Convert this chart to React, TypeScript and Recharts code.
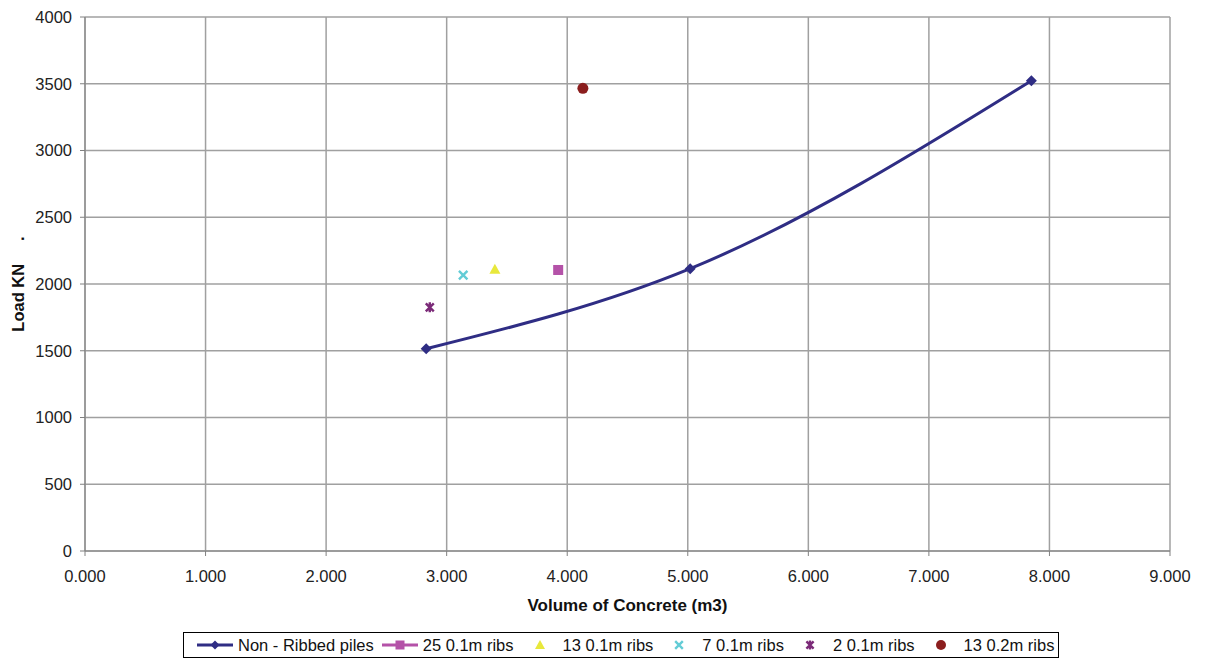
import React from 'react';
import {
  ComposedChart,
  Line,
  Scatter,
  XAxis,
  YAxis,
  CartesianGrid,
  Legend,
} from 'recharts';

// tick values
const xTicks = [0, 1, 2, 3, 4, 5, 6, 7, 8, 9];
const yTicks = [0, 500, 1000, 1500, 2000, 2500, 3000, 3500, 4000];

// non-ribbed piles (smoothed line)
const nonRibbedVolume = [2.83, 5.02, 7.85];
const nonRibbedLoad = [1515, 2115, 3523];

// ribbed piles (single points)
const ribbedNames = ['25 0.1m ribs', '13 0.1m ribs', '7 0.1m ribs', '2 0.1m ribs', '13 0.2m ribs'];
const ribbedVolume = [3.925, 3.4, 3.137, 2.86, 4.13];
const ribbedLoad = [2105, 2110, 2067, 1825, 3466];
const ribbedColors = ['#b452a8', '#e8e83c', '#63ccd6', '#7b2a78', '#8b1e1e'];
const ribbedShapes = ['square', 'triangle', 'x', 'asterisk', 'circle'];

const lineName = 'Non - Ribbed piles';
const lineColor = '#2f2d84';
const font = '"Liberation Sans", Arial, sans-serif';

const nonRibbed = nonRibbedVolume.map((x, i) => ({ x, y: nonRibbedLoad[i] }));
const ribbed = ribbedNames.map((name, i) => ({
  name,
  color: ribbedColors[i],
  shape: ribbedShapes[i],
  data: [{ x: ribbedVolume[i], y: ribbedLoad[i] }],
}));

function Marker({ shape, cx, cy, color, r = 5 }: { shape: string; cx: number; cy: number; color: string; r?: number }) {
  if (shape === 'diamond') {
    return <path d={`M${cx},${cy - r}L${cx + r},${cy}L${cx},${cy + r}L${cx - r},${cy}Z`} fill={color} />;
  }
  if (shape === 'square') {
    return <rect x={cx - r} y={cy - r} width={r * 2} height={r * 2} fill={color} />;
  }
  if (shape === 'triangle') {
    return <path d={`M${cx},${cy - r - 0.5}L${cx + r + 0.5},${cy + r - 0.5}L${cx - r - 0.5},${cy + r - 0.5}Z`} fill={color} />;
  }
  if (shape === 'x') {
    const a = r * 0.85;
    return (
      <path
        d={`M${cx - a},${cy - a}L${cx + a},${cy + a}M${cx + a},${cy - a}L${cx - a},${cy + a}`}
        stroke={color}
        strokeWidth={2.4}
        fill="none"
      />
    );
  }
  if (shape === 'asterisk') {
    const a = r * 0.8;
    return (
      <path
        d={`M${cx - a},${cy - a}L${cx + a},${cy + a}M${cx + a},${cy - a}L${cx - a},${cy + a}M${cx},${cy - r}L${cx},${cy + r}`}
        stroke={color}
        strokeWidth={2.4}
        fill="none"
      />
    );
  }
  return <circle cx={cx} cy={cy} r={r + 0.5} fill={color} />;
}

function XTitle(props: any) {
  const vb = props.viewBox || { x: 0, y: 0, width: 0 };
  return (
    <text
      x={vb.x + vb.width / 2}
      y={vb.y + 60}
      textAnchor="middle"
      fontFamily={font}
      fontSize={17}
      fontWeight="bold"
      fill="#111"
    >
      Volume of Concrete (m3)
    </text>
  );
}

function YTitle(props: any) {
  const vb = props.viewBox || { x: 0, y: 0, height: 0 };
  const cx = vb.x + 24;
  const cy = vb.y + vb.height / 2;
  return (
    <text
      x={cx}
      y={cy}
      transform={`rotate(-90, ${cx}, ${cy})`}
      textAnchor="middle"
      fontFamily={font}
      fontSize={16.5}
      fontWeight="bold"
      fill="#111"
    >
      {'Load KN\u00a0\u00a0\u00a0\u00a0\u00a0.'}
    </text>
  );
}

function ChartLegend() {
  const items = [
    { name: lineName, color: lineColor, shape: 'diamond', line: true },
    ...ribbed.map((s, i) => ({ name: s.name, color: s.color, shape: s.shape, line: i === 0 })),
  ];
  return (
    <div
      style={{
        boxSizing: 'border-box',
        height: 26,
        border: '1px solid #000',
        background: '#fff',
        display: 'flex',
        alignItems: 'center',
        paddingLeft: 12,
        fontFamily: font,
        fontSize: 16.5,
        color: '#111',
        whiteSpace: 'nowrap',
      }}
    >
      {items.map(it => (
        <span key={it.name} style={{ display: 'inline-flex', alignItems: 'center', marginRight: 7 }}>
          <svg width={38} height={14}>
            {it.line && <line x1={1} y1={7} x2={37} y2={7} stroke={it.color} strokeWidth={3} />}
            <Marker shape={it.shape} cx={19} cy={7} color={it.color} r={4.5} />
          </svg>
          <span style={{ marginLeft: 4 }}>{it.name}</span>
        </span>
      ))}
    </div>
  );
}

export default function App() {
  return (
    <div style={{ position: 'absolute', left: 0, top: 0, background: '#fff' }}>
      <ComposedChart width={1210} height={662} margin={{ top: 17, right: 40, left: 0, bottom: 4 }}>
        <CartesianGrid stroke="#a0a0a0" strokeWidth={1.5} />
        <XAxis
          type="number"
          dataKey="x"
          domain={[0, 9]}
          ticks={xTicks}
          tickFormatter={(v: number) => v.toFixed(3)}
          stroke="#808080"
          tickSize={5}
          tickMargin={14}
          height={81}
          tick={{ fontFamily: font, fontSize: 16.5, fill: '#222' }}
          label={<XTitle />}
        />
        <YAxis
          type="number"
          dataKey="y"
          domain={[0, 4000]}
          ticks={yTicks}
          stroke="#808080"
          tickSize={5}
          tickMargin={8}
          width={85}
          tick={{ fontFamily: font, fontSize: 16.5, fill: '#222' }}
          label={<YTitle />}
        />
        <Legend verticalAlign="bottom" width={876} wrapperStyle={{ left: 183 }} content={<ChartLegend />} />
        <Line
          data={nonRibbed}
          dataKey="y"
          name={lineName}
          type="monotone"
          stroke={lineColor}
          strokeWidth={3}
          isAnimationActive={false}
          dot={(p: any) => <Marker key={`d${p.index}`} shape="diamond" cx={p.cx} cy={p.cy} color={lineColor} r={5.5} />}
          activeDot={false}
        />
        {ribbed.map(s => (
          <Scatter
            key={s.name}
            name={s.name}
            data={s.data}
            dataKey="y"
            fill={s.color}
            isAnimationActive={false}
            shape={(p: any) => <Marker shape={s.shape} cx={p.cx} cy={p.cy} color={s.color} r={5} />}
          />
        ))}
      </ComposedChart>
    </div>
  );
}
